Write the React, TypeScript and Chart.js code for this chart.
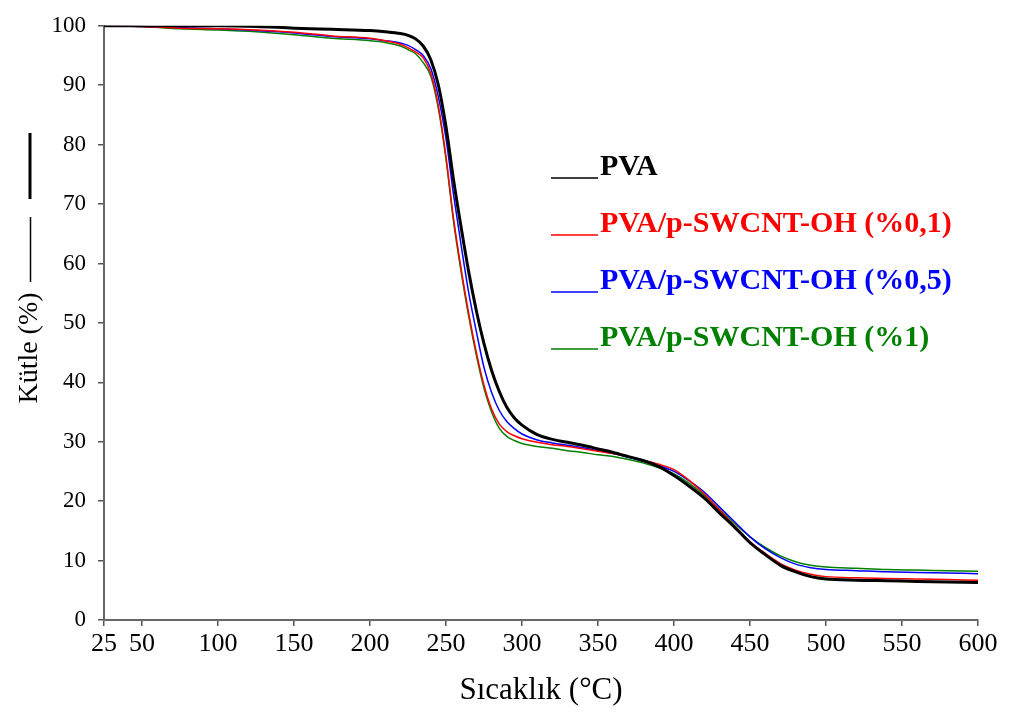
import React, { useEffect, useRef } from "react";
import { Chart, registerables } from "chart.js";

Chart.register(...registerables);

// Temperature grid (°C)
const temperatures = [
  25, 50, 75, 100, 125, 150, 175, 200, 210, 220, 225, 230, 235, 240, 245, 250,
  255, 260, 265, 270, 275, 280, 285, 290, 295, 300, 310, 320, 330, 340, 350,
  360, 370, 380, 390, 400, 410, 420, 430, 440, 450, 460, 470, 480, 490, 500,
  520, 540, 560, 580, 600,
];

// Mass (%) per sample
const pvaMass = [
  100, 100, 100, 100, 99.9, 99.6, 99.4, 99.2, 99.0, 98.7, 98.4, 97.8, 96.6,
  94.3, 90, 83, 74, 66, 58.5, 52, 46.5, 42, 38.5, 35.8, 34, 32.8, 31.2,
  30.4, 29.9, 29.4, 28.8, 28.2, 27.5, 26.8, 25.8, 24.3, 22.5, 20.5, 18, 15.6, 13,
  11, 9.2, 8.1, 7.3, 6.9, 6.7, 6.6, 6.5, 6.4, 6.3,
];
const pva01Mass = [
  100, 99.9, 99.6, 99.5, 99.3, 98.9, 98.3, 97.9, 97.5, 96.9, 96.3, 95.6, 94.6,
  92, 86.5, 78, 67.5, 59, 51.5, 45, 39.5, 35.5, 33, 31.7, 31, 30.5, 29.9,
  29.5, 29.2, 28.8, 28.4, 28, 27.5, 26.9, 26.2, 25.3, 23.5, 21.2, 18.5, 15.8,
  13.2, 11.2, 9.5, 8.4, 7.7, 7.3, 7.1, 7, 6.9, 6.8, 6.7,
];
const pva05Mass = [
  100, 99.9, 99.7, 99.5, 99.2, 98.8, 98.2, 97.8, 97.5, 97.1, 96.7, 96, 95,
  92.8, 88, 81, 71.5, 63, 55, 48.5, 42.5, 38.3, 35.3, 33.4, 32.2, 31.3, 30.3,
  29.8, 29.4, 29, 28.5, 28, 27.4, 26.7, 26, 25, 23.4, 21.5, 19, 16.5, 14, 12,
  10.5, 9.4, 8.8, 8.5, 8.3, 8.1, 8, 7.9, 7.8,
];
const pva1Mass = [
  100, 99.9, 99.5, 99.3, 99.0, 98.5, 97.9, 97.5, 97.2, 96.6, 96, 95.3, 93.8,
  91.5, 86, 77.5, 67, 58.5, 51, 44.5, 39, 35, 32.3, 30.9, 30.2, 29.7, 29.2, 28.9,
  28.5, 28.2, 27.8, 27.5, 27, 26.4, 25.6, 24.6, 23, 21, 18.6, 16.2, 14, 12.2,
  10.8, 9.8, 9.2, 8.9, 8.7, 8.5, 8.4, 8.3, 8.2,
];

const seriesLabels = [
  "PVA",
  "PVA/p-SWCNT-OH (%0,1)",
  "PVA/p-SWCNT-OH (%0,5)",
  "PVA/p-SWCNT-OH (%1)",
];
const seriesColors = ["#000000", "#ff0000", "#0000ff", "#008000"];
const seriesWidths = [3, 1.5, 1.5, 1.5];
const seriesValues = [pvaMass, pva01Mass, pva05Mass, pva1Mass];

const xTickValues = [25, 50, 100, 150, 200, 250, 300, 350, 400, 450, 500, 550, 600];
const xTitle = "Sıcaklık (°C)";
const yTitle = "Kütle (%)";

const SERIF = "'Liberation Serif', 'Times New Roman', serif";

const legendPlugin = {
  id: "customLegend",
  afterDraw(chart: any) {
    const ctx = chart.ctx;
    const lineX0 = 551;
    const lineX1 = 598;
    const textX = 600;
    const baseY = 175;
    const step = 57;
    ctx.save();
    ctx.font = `bold 30px ${SERIF}`;
    ctx.textBaseline = "alphabetic";
    ctx.textAlign = "left";
    chart.data.datasets.forEach((ds: any, i: number) => {
      const y = baseY + i * step;
      ctx.strokeStyle = ds.borderColor;
      ctx.lineWidth = 1.5;
      ctx.beginPath();
      ctx.moveTo(lineX0, y + 3);
      ctx.lineTo(lineX1, y + 3);
      ctx.stroke();
      ctx.fillStyle = ds.borderColor;
      ctx.fillText(ds.label, textX, y);
    });
    ctx.restore();
  },
};

const yTitlePlugin = {
  id: "yTitleDecor",
  afterDraw(chart: any) {
    const ctx = chart.ctx;
    ctx.save();
    ctx.translate(30, 348);
    ctx.rotate(-Math.PI / 2);
    ctx.font = `28px ${SERIF}`;
    ctx.fillStyle = "#000";
    ctx.textAlign = "center";
    ctx.textBaseline = "middle";
    ctx.fillText(yTitle, 0, 0);
    ctx.restore();
    // legend-like strokes next to the title
    ctx.save();
    ctx.strokeStyle = "#000";
    ctx.lineWidth = 1.5;
    ctx.beginPath();
    ctx.moveTo(30.5, 282);
    ctx.lineTo(30.5, 217);
    ctx.stroke();
    ctx.lineWidth = 3;
    ctx.beginPath();
    ctx.moveTo(30, 199);
    ctx.lineTo(30, 133);
    ctx.stroke();
    ctx.restore();
  },
};

export default function App() {
  const canvasRef = useRef<HTMLCanvasElement | null>(null);

  useEffect(() => {
    if (!canvasRef.current) return;
    const datasets = seriesLabels.map((label, i) => ({
      label,
      data: temperatures.map((t, j) => ({ x: t, y: seriesValues[i][j] })),
      borderColor: seriesColors[i],
      backgroundColor: seriesColors[i],
      borderWidth: seriesWidths[i],
      pointRadius: 0,
      cubicInterpolationMode: "monotone" as const,
      fill: false,
    }));

    const chart = new Chart(canvasRef.current, {
      type: "line",
      data: { datasets },
      plugins: [legendPlugin, yTitlePlugin],
      options: {
        animation: false,
        responsive: false,
        devicePixelRatio: 1,
        layout: { padding: { top: 16, right: 34, left: 0, bottom: 0 } },
        plugins: {
          legend: { display: false },
          tooltip: { enabled: false },
          title: { display: false },
        },
        scales: {
          x: {
            type: "linear",
            min: 25,
            max: 600,
            afterBuildTicks(scale: any) {
              scale.ticks = xTickValues.map((v) => ({ value: v }));
            },
            afterFit(scale: any) {
              scale.height = 97;
            },
            grid: {
              display: true,
              drawOnChartArea: false,
              drawTicks: true,
              tickLength: 6,
              color: "#555",
              lineWidth: 1.5,
            },
            border: { display: true, color: "#666", width: 2 },
            ticks: {
              autoSkip: false,
              maxRotation: 0,
              padding: 5,
              color: "#000",
              font: { family: SERIF, size: 26, lineHeight: 1 },
            },
            title: {
              display: true,
              text: xTitle,
              color: "#000",
              font: { family: SERIF, size: 31, lineHeight: 1.2 },
              padding: { top: 0, bottom: 8 },
            },
          },
          y: {
            type: "linear",
            min: 0,
            max: 100,
            afterFit(scale: any) {
              scale.width = 104;
            },
            grid: {
              display: true,
              drawOnChartArea: false,
              drawTicks: true,
              tickLength: 6,
              color: "#555",
              lineWidth: 1.5,
            },
            border: { display: true, color: "#666", width: 2 },
            ticks: {
              stepSize: 10,
              padding: 12,
              color: "#000",
              font: { family: SERIF, size: 23 },
            },
          },
        },
      },
    });
    return () => chart.destroy();
  }, []);

  return (
    <div style={{ position: "absolute", left: 0, top: 0, width: 1012, height: 717, background: "#fff" }}>
      <canvas ref={canvasRef} width={1012} height={717} style={{ display: "block" }} />
    </div>
  );
}
